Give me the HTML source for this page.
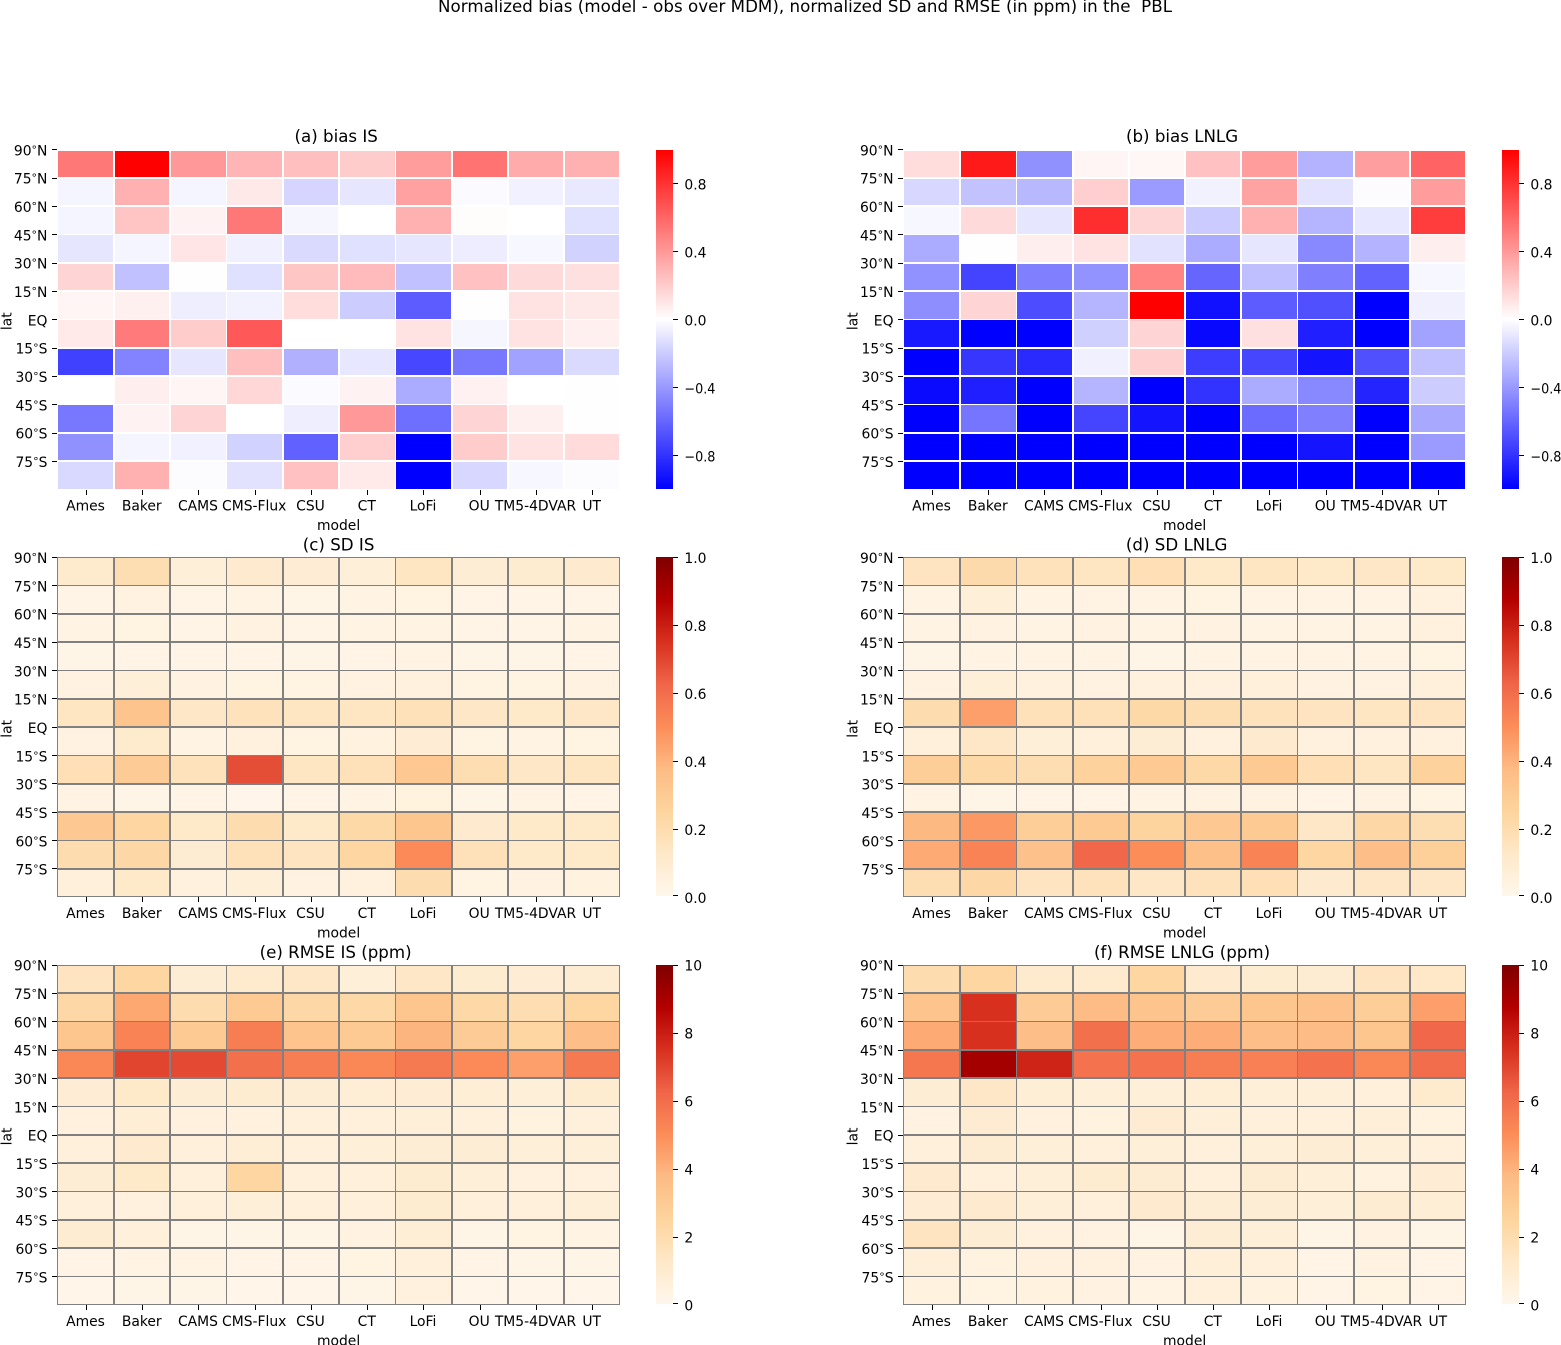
<!DOCTYPE html>
<html>
<head>
<meta charset="utf-8">
<title>Normalized bias, SD and RMSE heatmaps</title>
<style>
html,body{margin:0;padding:0;background:#fff;}
svg{display:block;}
text{font-family:"DejaVu Sans","Liberation Sans",sans-serif;fill:#000;}
</style>
</head>
<body>
<svg id="figure" xmlns="http://www.w3.org/2000/svg" width="1561" height="1345" viewBox="0 0 1561 1345">
  <defs id="grads"></defs>
  <rect x="0" y="0" width="1561" height="1345" fill="#ffffff"/>
  <text x="438" y="12" font-size="16.67" textLength="734" style="white-space:pre" xml:space="preserve">Normalized bias (model - obs over MDM), normalized SD and RMSE (in ppm) in the  PBL</text>
</svg>
<script>
// ---- categories and tick labels ----
const models = ['Ames','Baker','CAMS','CMS-Flux','CSU','CT','LoFi','OU','TM5-4DVAR','UT'];
const latLabels = ['90°N','75°N','60°N','45°N','30°N','15°N','EQ','15°S','30°S','45°S','60°S','75°S'];
const bwrTicks = [0.8,0.4,0.0,-0.4,-0.8];
const sdTicks = [0.0,0.2,0.4,0.6,0.8,1.0];
const rmseTicks = [0,2,4,6,8,10];

// ---- series values (rows north to south, columns in model order) ----
const biasIS = [
 [.53,1,.40,.29,.25,.20,.39,.55,.33,.31],
 [-.04,.31,-.04,.09,-.165,-.10,.37,-.02,-.055,-.09],
 [-.04,.23,.05,.53,-.035,0,.31,.01,0,-.12],
 [-.10,-.04,.10,-.06,-.145,-.12,-.10,-.07,-.03,-.175],
 [.17,-.245,.005,-.12,.225,.265,-.245,.245,.145,.12],
 [.04,.06,-.065,-.05,.135,-.20,-.635,.005,.115,.09],
 [.085,.52,.20,.655,0,0,.115,-.035,.115,.06],
 [-.75,-.485,-.10,.25,-.31,-.095,-.72,-.53,-.37,-.145],
 [0,.065,.04,.155,-.015,.05,-.33,.055,0,.005],
 [-.53,.05,.17,0,-.065,.40,-.57,.17,.06,.005],
 [-.435,-.04,-.055,-.175,-.62,.19,-1,.20,.115,.14],
 [-.15,.31,-.01,-.115,.245,.085,-1,-.155,-.03,-.01]
];
const biasLNLG = [
 [.135,.90,-.435,.04,.035,.245,.39,-.30,.38,.61],
 [-.155,-.24,-.28,.19,-.395,-.05,.365,-.11,-.01,.39],
 [-.03,.145,-.10,.82,.16,-.205,.31,-.29,-.095,.76],
 [-.33,.005,.065,.11,-.115,-.33,-.10,-.465,-.30,.065],
 [-.43,-.735,-.50,-.425,.48,-.60,-.25,-.50,-.615,-.03],
 [-.445,.17,-.70,-.29,1,-.935,-.64,-.685,-1,-.06],
 [-.90,-1,-1,-.185,.17,-.97,.12,-.88,-1,-.365],
 [-1,-.79,-.835,-.06,.185,-.76,-.725,-.92,-.685,-.245],
 [-.96,-.88,-1,-.29,-1,-.80,-.33,-.465,-.86,-.20],
 [-1,-.54,-1,-.73,-.92,-1,-.58,-.50,-1,-.34],
 [-1,-1,-1,-1,-1,-1,-1,-.92,-1,-.395],
 [-1,-1,-1,-1,-1,-1,-1,-1,-1,-1]
];
const sdIS = [
 [.11,.19,.07,.10,.085,.07,.14,.08,.095,.105],
 [.025,.04,.025,.03,.02,.03,.035,.025,.025,.025],
 [.03,.035,.025,.04,.025,.03,.03,.025,.025,.03],
 [.02,.025,.025,.025,.02,.025,.03,.02,.02,.025],
 [.04,.065,.04,.035,.035,.04,.05,.035,.035,.04],
 [.14,.33,.13,.16,.14,.14,.17,.13,.12,.13],
 [.04,.11,.03,.05,.035,.045,.085,.035,.03,.035],
 [.18,.29,.16,.68,.14,.17,.31,.19,.13,.14],
 [.03,.02,.025,.015,.025,.03,.045,.02,.03,.025],
 [.31,.24,.12,.20,.12,.22,.32,.10,.12,.12],
 [.20,.23,.09,.17,.15,.24,.51,.17,.12,.12],
 [.06,.12,.05,.07,.04,.05,.20,.035,.04,.045]
];
const sdLNLG = [
 [.15,.21,.16,.14,.18,.12,.14,.12,.13,.12],
 [.03,.065,.03,.03,.03,.035,.03,.03,.03,.05],
 [.03,.04,.03,.04,.03,.04,.03,.03,.03,.05],
 [.02,.03,.03,.03,.02,.03,.03,.03,.03,.035],
 [.04,.07,.05,.04,.05,.05,.055,.04,.04,.055],
 [.20,.45,.17,.17,.22,.19,.16,.15,.14,.15],
 [.06,.13,.07,.06,.08,.05,.10,.05,.05,.05],
 [.28,.22,.19,.26,.30,.22,.30,.18,.14,.26],
 [.03,.02,.025,.025,.03,.04,.04,.025,.04,.035],
 [.38,.47,.28,.30,.25,.31,.30,.13,.23,.19],
 [.42,.53,.34,.62,.50,.35,.53,.24,.36,.27],
 [.19,.23,.15,.16,.13,.16,.18,.10,.13,.13]
];
const rmseIS = [
 [1.5,2.4,.8,1.1,1.3,.7,1.3,.95,.85,.9],
 [2.3,4.3,2.0,3.0,2.3,2.2,3.2,2.2,1.9,2.4],
 [3.2,5.3,3.0,5.5,3.3,3.0,3.9,2.9,2.4,3.6],
 [5.2,7.0,6.9,5.9,5.5,5.2,5.6,5.1,4.5,5.6],
 [.85,1.2,.8,.95,.8,.75,.85,.75,.7,.95],
 [.5,.75,.5,.5,.55,.55,.65,.55,.45,.55],
 [.6,1.0,.6,.75,.6,.7,.8,.8,.7,.65],
 [.8,1.2,.55,2.4,.6,.6,.95,.7,.5,.5],
 [.55,.5,.6,.65,.6,.55,.95,.55,.55,.65],
 [.9,.6,.2,.2,.2,.4,.75,.2,.35,.3],
 [.25,.3,.3,.25,.25,.35,.6,.25,.2,.2],
 [.15,.2,.2,.15,.15,.2,.5,.15,.15,.15]
];
const rmseLNLG = [
 [2.0,2.4,1.1,1.1,2.4,1.0,.95,.9,1.5,1.25],
 [3.3,7.5,2.9,3.7,3.3,2.9,3.2,3.4,2.8,4.5],
 [4.2,7.5,3.6,5.9,4.1,4.1,3.6,3.7,3.2,6.2],
 [5.7,9.1,7.8,5.8,5.8,5.5,5.4,5.8,5.2,6.0],
 [.8,1.3,.75,.7,.7,.75,.7,.7,.6,1.1],
 [.4,.9,.5,.45,.9,.65,.55,.55,.65,.45],
 [.55,.9,.7,.6,.65,.6,.7,.8,.65,.55],
 [1.05,.6,.7,.95,.9,.6,.9,.7,.45,.85],
 [.85,1.0,.7,.55,1.0,.8,.8,.65,.9,.75],
 [1.5,.8,.5,.4,.2,.8,.7,.2,.4,.2],
 [.7,.45,.5,.5,.4,.65,.55,.25,.4,.25],
 [.45,.35,.45,.4,.3,.6,.45,.25,.35,.25]
];

// ---- colormaps ----
const BWR = ['#0000ff','#ffffff','#ff0000'];
const ORRD = ['#fff7ec','#fee8c8','#fdd49e','#fdbb84','#fc8d59','#ef6548','#d7301f','#b30000','#7f0000'];

function hexRgb(h){ return [1,3,5].map(function(i){ return parseInt(h.substr(i,2),16); }); }
function cmap(stops,t){
  t = Math.max(0,Math.min(1,t));
  var p = t*(stops.length-1), i = Math.min(stops.length-2,Math.floor(p)), f = p-i;
  var a = hexRgb(stops[i]), b = hexRgb(stops[i+1]);
  return 'rgb('+a.map(function(c,j){ return Math.round(c+(b[j]-c)*f); }).join(',')+')';
}

const SVGNS = 'http://www.w3.org/2000/svg';
const svg = document.getElementById('figure');
const defs = document.getElementById('grads');

function mk(tag,attrs,parent){
  var el = document.createElementNS(SVGNS,tag);
  for (var k in attrs) el.setAttribute(k,attrs[k]);
  (parent||svg).appendChild(el);
  return el;
}

// ---- layout ----
const COL_W = 56.25, PANEL_W = 562.5, PANEL_H = 340, ROW_H = PANEL_H/12;
const FS = 13.89, TITLE_FS = 16.67;

function drawPanel(cfg){
  var x0 = cfg.x0, y0 = cfg.y0;
  var xEdge = function(k){ return x0 + k*COL_W; };
  var yEdge = function(k){ return y0 + k*ROW_H; };
  var norm = function(v){ return (v-cfg.vmin)/(cfg.vmax-cfg.vmin); };
  var px = Math.floor(x0), pxR = Math.floor(xEdge(10));
  var py = Math.round(y0), pyB = Math.floor(yEdge(12)-0.5);
  var lineX = function(k){
    if (k===0) return px;
    if (k===10) return pxR;
    return cfg.thinCols.indexOf(k)>=0 ? Math.round(xEdge(k)) : Math.floor(xEdge(k));
  };

  var g = mk('g',{});
  
  

  // cells
  var cg = mk('g',{'shape-rendering':'crispEdges'},g);
  
  
  cfg.data.forEach(function(row,r){
    row.forEach(function(v,c){
      var xa = lineX(c);
      var xb = lineX(c+1)+1;
      var ya = r===0 ? py : Math.floor(yEdge(r)-0.5);
      var yb = r===11 ? pyB+1 : Math.floor(yEdge(r+1)-0.5)+1;
      var cell = mk('rect',{x:xa,y:ya,width:xb-xa,height:yb-ya,fill:cmap(cfg.cmap,norm(v))},cg);
      
      
    });
  });

  // grid lines
  var lg = mk('g',{'shape-rendering':'crispEdges',fill:cfg.lineColor},g);
  
  
  for (var k=1;k<10;k++){
    var thin = cfg.thinCols.indexOf(k)>=0;
    mk('rect',{x:lineX(k),y:py,width:thin?1:2,height:pyB+1-py},lg);
  }
  for (var m=1;m<12;m++){
    var thinR = (m%3)===cfg.thinRow;
    mk('rect',{x:px,y:Math.floor(yEdge(m)-0.5),width:pxR+1-px,height:thinR?1:2},lg);
  }
  mk('rect',{x:px,y:py,width:pxR+1-px,height:1},lg);
  mk('rect',{x:px,y:pyB,width:pxR+1-px,height:1},lg);
  mk('rect',{x:px,y:py,width:1,height:pyB+1-py},lg);
  mk('rect',{x:pxR,y:py,width:1,height:pyB+1-py},lg);

  // y ticks
  var tg = mk('g',{},g);
  
  
  latLabels.forEach(function(lab,r){
    var y = yEdge(r);
    var tk = mk('rect',{x:px-5,y:Math.floor(y),width:5,height:1,fill:'#000','shape-rendering':'crispEdges'},tg);
    
    
    var t = mk('text',{x:x0-9.9,y:y+5.7,'text-anchor':'end','font-size':FS},tg);
    
    
    var parts = lab.split('°');
    if (parts.length===2){
      var a = mk('tspan',{},t); a.textContent = parts[0];
      var b = mk('tspan',{'font-size':11,dy:-2},t); b.textContent = '°';
      var d = mk('tspan',{dy:2},t); d.textContent = parts[1];
    } else {
      t.textContent = lab;
    }
  });
  // x ticks
  models.forEach(function(lab,c){
    var x = xEdge(c+0.5);
    var tk = mk('rect',{x:Math.round(x+0.3),y:pyB+1,width:1,height:5,fill:'#000','shape-rendering':'crispEdges'},tg);
    
    
    var t = mk('text',{x:x,y:yEdge(12)+20.8,'text-anchor':'middle','font-size':FS},tg);
    
    
    t.textContent = lab;
  });
  // axis labels and title
  var xl = mk('text',{x:xEdge(5),y:yEdge(12)+40.3,'text-anchor':'middle','font-size':FS},tg);
  
  
  xl.textContent = 'model';
  var ylx = x0===57.35 ? 11.4 : 857.4;
  var yly = yEdge(6)+1.5;
  var yl = mk('text',{x:ylx,y:yly,'text-anchor':'middle','font-size':FS,transform:'rotate(-90 '+ylx+' '+yly+')'},tg);
  
  
  yl.textContent = 'lat';
  var ti = mk('text',{x:xEdge(5)+cfg.titleDx,y:cfg.titleY,'text-anchor':'middle','font-size':TITLE_FS},tg);
  
  
  ti.textContent = cfg.title;

  // colorbar
  var cbx = Math.round(xEdge(10)+36.3);
  var gid = 'grad-'+cfg.id;
  var lgrad = mk('linearGradient',{id:gid,x1:0,y1:1,x2:0,y2:0},defs);
  cfg.cmap.forEach(function(col,i){
    mk('stop',{offset:i/(cfg.cmap.length-1),'stop-color':col},lgrad);
  });
  var bar = mk('rect',{x:cbx,y:py,width:17,height:pyB-py,fill:'url(#'+gid+')'},g);
  
  
  cfg.ticks.forEach(function(v){
    var y = y0 + (1-norm(v))*PANEL_H;
    var tk = mk('rect',{x:cbx+17,y:Math.min(pyB-1,Math.floor(y)),width:5,height:1,fill:'#000','shape-rendering':'crispEdges'},g);
    
    
    var attrs = {x:cbx+28.4,y:y+5.7,'font-size':FS};
    if (v<0){ attrs.textLength = 31; attrs.lengthAdjust = 'spacingAndGlyphs'; }
    var t = mk('text',attrs,g);
    
    
    t.textContent = cfg.fmt(v);
  });
}

function fmt1(v){ return (v<0?'\u2212':'') + Math.abs(v).toFixed(1); }
function fmt0(v){ return String(v); }

const LEFT = 57.35, RIGHT = 903.4;
const ROW1 = 149.67, ROW2 = 557.33, ROW3 = 965;

drawPanel({id:'a',name:'panel-bias-is',title:'(a) bias IS',data:biasIS,cmap:BWR,vmin:-1,vmax:1,ticks:bwrTicks,fmt:fmt1,x0:LEFT,y0:ROW1,lineColor:'#ffffff',thinCols:[3,6],thinRow:0,titleDx:-2.4,titleY:142});
drawPanel({id:'b',name:'panel-bias-lnlg',title:'(b) bias LNLG',data:biasLNLG,cmap:BWR,vmin:-1,vmax:1,ticks:bwrTicks,fmt:fmt1,x0:RIGHT,y0:ROW1,lineColor:'#ffffff',thinCols:[2,7],thinRow:0,titleDx:-2.6,titleY:142});
drawPanel({id:'c',name:'panel-sd-is',title:'(c) SD IS',data:sdIS,cmap:ORRD,vmin:0,vmax:1,ticks:sdTicks,fmt:fmt1,x0:LEFT,y0:ROW2,lineColor:'#808080',thinCols:[3,6],thinRow:1,titleDx:0,titleY:550.5});
drawPanel({id:'d',name:'panel-sd-lnlg',title:'(d) SD LNLG',data:sdLNLG,cmap:ORRD,vmin:0,vmax:1,ticks:sdTicks,fmt:fmt1,x0:RIGHT,y0:ROW2,lineColor:'#808080',thinCols:[2,7],thinRow:1,titleDx:-8,titleY:550.5});
drawPanel({id:'e',name:'panel-rmse-is',title:'(e) RMSE IS (ppm)',data:rmseIS,cmap:ORRD,vmin:0,vmax:10,ticks:rmseTicks,fmt:fmt0,x0:LEFT,y0:ROW3,lineColor:'#808080',thinCols:[3,6],thinRow:2,titleDx:-3,titleY:958});
drawPanel({id:'f',name:'panel-rmse-lnlg',title:'(f) RMSE LNLG (ppm)',data:rmseLNLG,cmap:ORRD,vmin:0,vmax:10,ticks:rmseTicks,fmt:fmt0,x0:RIGHT,y0:ROW3,lineColor:'#808080',thinCols:[2,7],thinRow:2,titleDx:-2.6,titleY:958});
</script>
</body>
</html>
